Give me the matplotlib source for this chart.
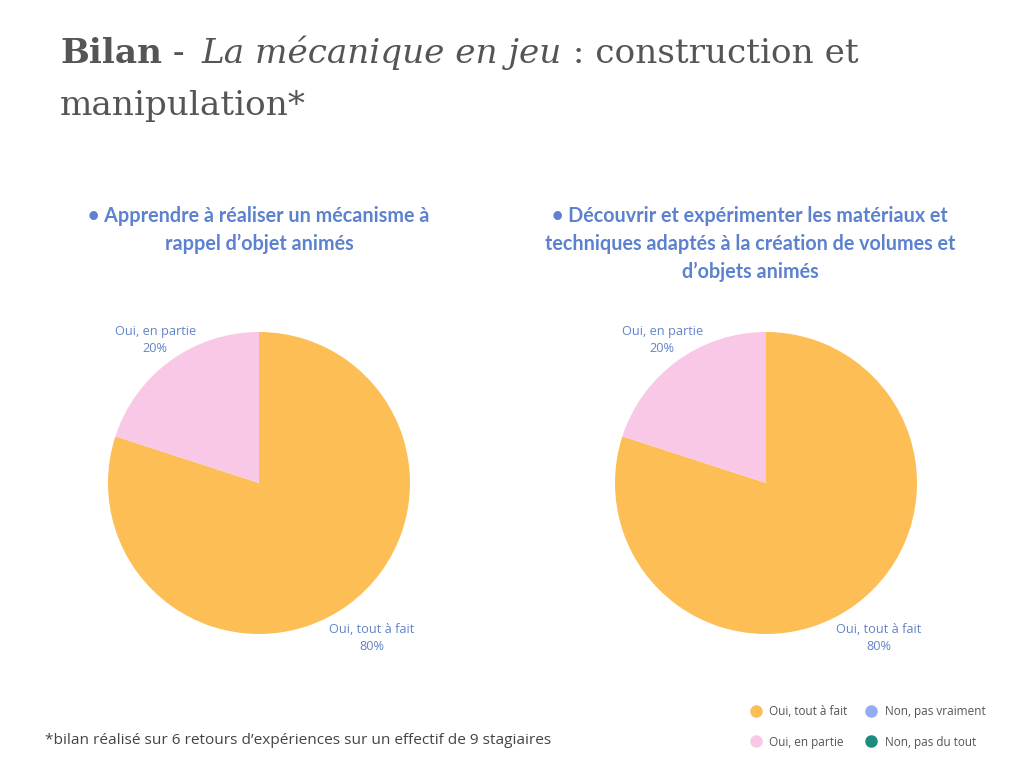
import matplotlib
matplotlib.use("Agg")
import matplotlib.pyplot as plt
from matplotlib.lines import Line2D
import numpy as np


# Data
categories = ["Oui, tout à fait", "Oui, en partie", "Non, pas vraiment", "Non, pas du tout"]
values_left = [80, 20, 0, 0]
values_right = [80, 20, 0, 0]
colors = ["#FDBE56", "#F9C8E6", "#93ADEE", "#1F8B7E"]

subtitle_left = "• Apprendre à réaliser un mécanisme à\nrappel d’objet animés"
subtitle_right = ("• Découvrir et expérimenter les matériaux et\n"
                  "techniques adaptés à la création de volumes et\nd’objets animés")
footnote = "*bilan réalisé sur 6 retours d’expériences sur un effectif de 9 stagiaires"

title_parts = [("Bilan", "bold", "normal"), (" - ", "normal", "normal"),
               ("La mécanique en jeu", "normal", "italic"), (" : construction et", "normal", "normal")]
title_line2 = "manipulation*"

label_color = "#6284C8"
sub_color = "#5C82CF"
grey = "#555555"

W, H = 1024, 768
fig = plt.figure(figsize=(10.24, 7.68), dpi=100)
fig.patch.set_facecolor("white")


# Pie charts, radius 151 px, centres at (259, 483) and (766, 483)
def draw_pie(cx, values):
    lim = 1.6
    size = 2 * lim * 151
    ax = fig.add_axes([(cx - size / 2) / W, (H - 483 - size / 2) / H, size / W, size / H])
    ax.pie(values, colors=colors, startangle=90, counterclock=False,
           wedgeprops=dict(linewidth=0))
    total = sum(values)
    start = 90.0
    dists = [1.27, 1.17]
    for i, v in enumerate(values):
        if v == 0:
            continue
        mid = np.radians(start - 360.0 * v / total / 2)
        r = dists[i % 2]
        ax.text(r * np.cos(mid), r * np.sin(mid), f"{categories[i]}\n{v}%",
                ha="center", va="center", fontsize=9.2, color=label_color,
                family="Open Sans", linespacing=1.35)
        start -= 360.0 * v / total
    ax.set_xlim(-lim, lim)
    ax.set_ylim(-lim, lim)
    ax.set_axis_off()
    return ax


draw_pie(259, values_left)
draw_pie(766, values_right)

# Subtitles
fig.text(259 / W, 1 - 206 / H, subtitle_left, ha="center", va="top", fontsize=14.2,
         fontweight="bold", color=sub_color, family="Lato", linespacing=1.48)
fig.text(750 / W, 1 - 206 / H, subtitle_right, ha="center", va="top", fontsize=14.2,
         fontweight="bold", color=sub_color, family="Lato", linespacing=1.48)

# Title, mixed styles laid out piece by piece
renderer = fig.canvas.get_renderer()
x = 60
for txt, weight, style in title_parts:
    t = fig.text(x / W, 1 - 63 / H, txt, ha="left", va="baseline", fontsize=24.7,
                 fontweight=weight, fontstyle=style, color=grey, family="DejaVu Serif")
    x = t.get_window_extent(renderer).x1 + (6 if txt.endswith(" ") else 0)
fig.text(60 / W, 1 - 115 / H, title_line2, ha="left", va="baseline", fontsize=24.7,
         color=grey, family="DejaVu Serif")

# Footnote
fig.text(45 / W, 1 - 741 / H, footnote, ha="left", va="center", fontsize=11.1,
         color="#444444", family="Open Sans")

# Legend
handles = [Line2D([], [], marker="o", linestyle="none", markersize=8,
                  markerfacecolor=c, markeredgecolor=c) for c in colors]
fig.legend(handles, categories, ncol=2, loc="center", bbox_to_anchor=(867 / W, 1 - 727 / H),
           frameon=False, labelcolor=grey, handletextpad=0.55, handlelength=1.2,
           columnspacing=1.4, labelspacing=1.45, prop={"family": "Open Sans", "size": 8.5})

fig.savefig("out.png", dpi=100, facecolor="white")
